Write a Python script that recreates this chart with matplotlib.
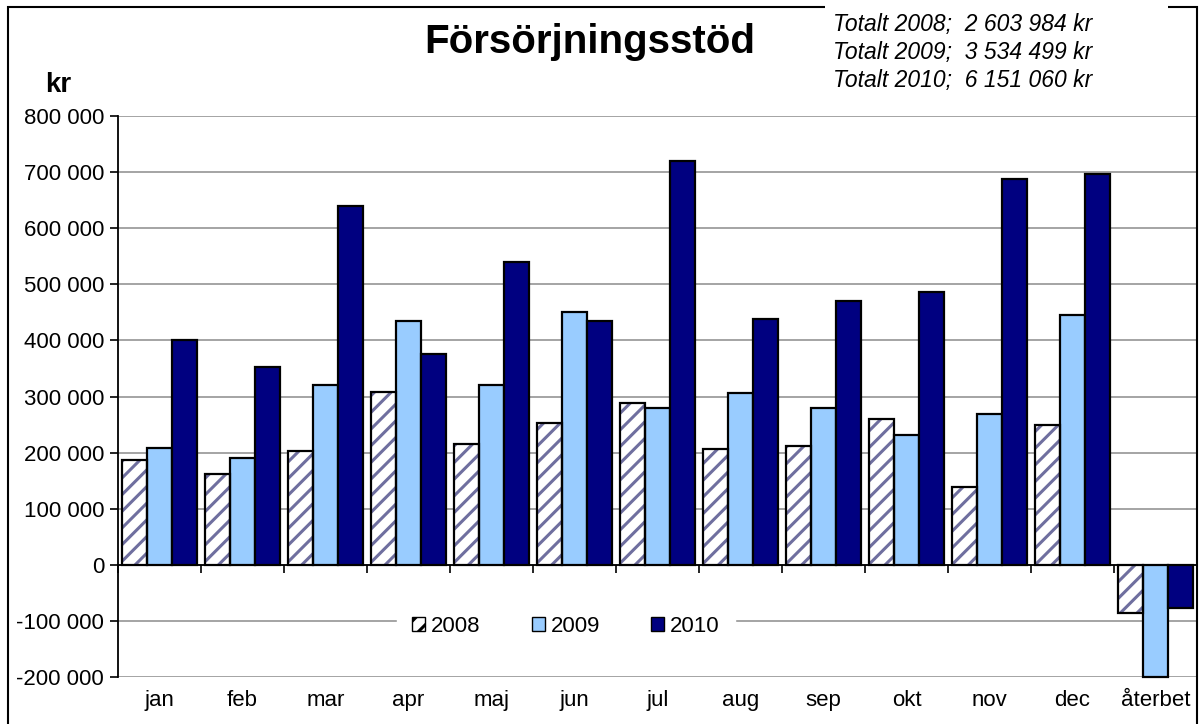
import matplotlib
matplotlib.use("Agg")
from matplotlib import pyplot as plt
from matplotlib.patches import Patch, Rectangle
from matplotlib.ticker import FuncFormatter
import numpy as np

plt.rcParams['font.family'] = ['Liberation Sans', 'DejaVu Sans']
plt.rcParams['hatch.linewidth'] = 2.2

months = ['jan', 'feb', 'mar', 'apr', 'maj', 'jun', 'jul', 'aug', 'sep', 'okt', 'nov', 'dec', 'återbet']
v2008 = [187000, 162000, 203000, 308000, 215000, 253000, 288000, 206000, 212000, 260000, 139000, 250000, -85000]
v2009 = [208000, 190000, 320000, 435000, 320000, 451000, 279000, 307000, 279000, 231000, 269000, 445000, -200000]
v2010 = [400000, 352000, 639000, 375000, 540000, 435000, 719000, 438000, 470000, 486000, 687000, 696000, -77000]
totals = ['Totalt 2008;  2 603 984 kr', 'Totalt 2009;  3 534 499 kr', 'Totalt 2010;  6 151 060 kr']

c2009 = '#99ccff'
c2010 = '#000080'
hatch_col = '#6f6f9f'

fig = plt.figure(figsize=(12, 7.24), dpi=100)
ax = fig.add_axes([118/1200, 1-677.3/724, 1079/1200, 561.5/724])

x = np.arange(len(months))
w = 0.3
# 2008: hatched fill, then black outline on top
ax.bar(x - w, v2008, w, color='white', edgecolor=hatch_col, hatch='//', linewidth=0, zorder=3)
ax.bar(x - w, v2008, w, color='none', edgecolor='black', linewidth=1.6, zorder=4)
ax.bar(x, v2009, w, color=c2009, edgecolor='black', linewidth=1.6, zorder=3, clip_on=False)
ax.bar(x + w, v2010, w, color=c2010, edgecolor='black', linewidth=1.6, zorder=3)

ax.set_xlim(-0.5, len(months) - 0.5)
ax.set_ylim(-200000, 800000)
ax.set_yticks(np.arange(-200000, 800001, 100000))
ax.yaxis.set_major_formatter(FuncFormatter(lambda v, p: f"{int(v):,}".replace(',', ' ')))
ax.grid(axis='y', color='#8c8c8c', linewidth=1.1, zorder=0)
ax.set_axisbelow(True)

for s in ['top', 'right', 'bottom']:
    ax.spines[s].set_visible(False)
ax.spines['left'].set_linewidth(1.3)

ax.set_xticks(x)
ax.set_xticklabels(months)
ax.tick_params(axis='x', length=0, pad=9, labelsize=16)
ax.tick_params(axis='y', length=6, width=1.2, pad=4, labelsize=16)

# zero line with category boundary ticks
zero = ax.secondary_xaxis(0.2)
zero.set_xticks(np.arange(-0.5, len(months), 1.0))
zero.tick_params(axis='x', length=6, width=1.2, labelbottom=False, color='black')
zero.spines['bottom'].set_linewidth(1.3)
zero.set_zorder(5)

handles = [Patch(facecolor='white', edgecolor='black', hatch='//', label='2008'),
           Patch(facecolor=c2009, edgecolor='black', label='2009'),
           Patch(facecolor=c2010, edgecolor='black', label='2010')]
leg = ax.legend(handles=handles, loc='center', bbox_to_anchor=(0.415, 0.09), ncol=3,
                fontsize=16, frameon=True, facecolor='white', edgecolor='white', framealpha=1,
                handlelength=0.6, handleheight=0.6, handletextpad=0.25, columnspacing=2.3,
                borderpad=0.7, fancybox=False)
leg.set_zorder(6)

fig.text(590/1200, 1-42/724, 'Försörjningsstöd', ha='center', va='center',
         fontsize=29, fontweight='bold')
fig.text(71/1200, 1-85/724, 'kr', ha='right', va='center', fontsize=20, fontweight='bold')

# outer chart border
fig.patches.append(Rectangle((8/1200, -0.01), 1189/1200, 1.01 - 7/724, transform=fig.transFigure,
                             fill=False, edgecolor='black', linewidth=1.5))
# totals box covering the border
fig.patches.append(Rectangle((825/1200, 1-95/724), 343/1200, 95/724, transform=fig.transFigure,
                             facecolor='white', edgecolor='none', zorder=2))
for i, t in enumerate(totals):
    fig.text(833/1200, 1-(25 + 28*i)/724, t, ha='left', va='center', fontsize=16.5,
             style='italic', zorder=3)

fig.savefig('out.png', dpi=100)
